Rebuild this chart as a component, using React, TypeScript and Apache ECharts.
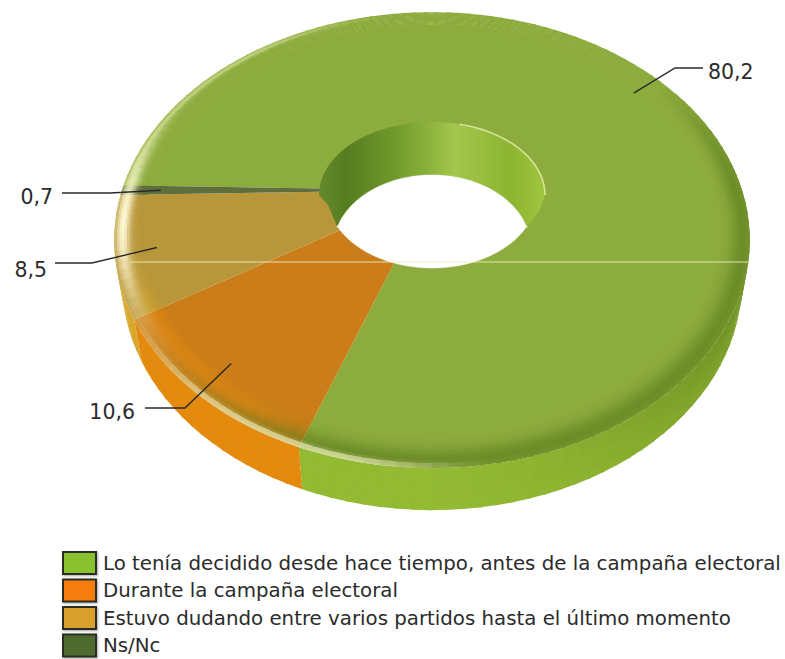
import React, { useEffect, useRef } from "react";
import * as echarts from "echarts";

const categories = [
  "Lo tenía decidido desde hace tiempo, antes de la campaña electoral",
  "Durante la campaña electoral",
  "Estuvo dudando entre varios partidos hasta el último momento",
  "Ns/Nc",
];
const sliceValues = [80.2, 10.6, 8.5, 0.7];

const legendColors = ["#88C02E", "#F57C0A", "#D9A02E", "#4F6A2F"];
const faceColors = ["#8DAC3E", "#CB7D19", "#B8963A", "#5F6F3C"];
const wallColors = ["#93BA33", "#E38A0F", "#D8A62C", "#5F7A30"];

// Label leader geometry (screen offsets only; anchors come from slice mid-angles)
const leaders = [
  { path: [[675, 68], [703, 68]], tx: 708, ty: 72, align: "left" },
  { path: [[185, 408], [145, 408]], tx: 135, ty: 412, align: "right" },
  { path: [[92, 263], [55, 263]], tx: 47, ty: 270, align: "right" },
  { path: [[110, 193], [62, 193]], tx: 53, ty: 197, align: "right" },
];

const FONT = "'DejaVu Sans', sans-serif";
const START = 181.2;
const CX = 432, CY = 190, AX = 310, AY = 217, K = 0.22;
const DEPTH = 42, SHRINK = 0.975;
const R_IN = 0.3, R_BEVEL = 0.91;
const RAD = Math.PI / 180;

function project(r: number, deg: number): [number, number] {
  const u = r * Math.cos(deg * RAD), v = r * Math.sin(deg * RAD);
  const w = 1 - K * v;
  return [CX + (AX * u) / w, CY + (AY * v) / w];
}
function hex(c: string) {
  return [1, 3, 5].map((i) => parseInt(c.slice(i, i + 2), 16));
}
function mix(a: string, b: string, t: number) {
  const A = hex(a), B = hex(b);
  const tt = Math.max(0, Math.min(1, t));
  const out = A.map((x, i) => Math.round(x + (B[i] - x) * tt));
  return "#" + out.map((x) => x.toString(16).padStart(2, "0")).join("");
}
function sstep(a: number, b: number, x: number) {
  const t = Math.max(0, Math.min(1, (x - a) / (b - a)));
  return t * t * (3 - 2 * t);
}
function gauss(x: number, c: number, w: number) {
  return Math.exp(-Math.pow((x - c) / w, 2));
}
function norm(d: number) {
  let x = d % 360;
  if (x > 180) x -= 360;
  if (x <= -180) x += 360;
  return x;
}
function bevelColor(base: string, wall: string, deg: number, t: number) {
  const p = norm(deg);
  const q = p < -90 ? p + 360 : p;
  const dark = sstep(-40, 0, q) * (1 - sstep(100, 150, q));
  let c = mix(base, "#5A7A1C", 0.62 * dark * gauss(t, 0.78, 0.42));
  const glow = sstep(105, 125, q) * (1 - sstep(145, 165, q));
  c = mix(c, wall, 0.55 * glow * gauss(t, 0.4, 0.3));
  c = mix(c, "#FFFBD8", 0.97 * gauss(q, 172, 20) * gauss(t, 0.72, 0.24));
  c = mix(c, "#F6F5C0", 0.5 * sstep(168, 190, q) * (1 - sstep(225, 265, q)) * gauss(t, 0.85, 0.12));
  c = mix(c, "#FBF7C8", 0.8 * sstep(80, 104, q) * (1 - sstep(118, 160, q)) * gauss(t, 0.92, 0.09));
  return c;
}
function wallColor(base: string, deg: number, t: number) {
  const p = norm(deg);
  const q = p < -90 ? p + 360 : p;
  const shade = 1 - sstep(15, 95, q);
  let c = mix(base, "#4E6E18", 0.6 * shade * (1 - 0.45 * t));
  const left = sstep(150, 176, q);
  c = mix(c, "#E8D860", 0.5 * left);
  return c;
}
function seg(points: number[][], fill: string, z2: number) {
  return {
    type: "polygon",
    silent: true,
    z2,
    shape: { points },
    style: { fill },
  };
}

function renderSlice(sliceIndex: number) {
  const total = sliceValues.reduce((a, b) => a + b, 0);
  const before = sliceValues.slice(0, sliceIndex).reduce((a, b) => a + b, 0);
  const a0 = START + (before / total) * 360;
  const a1 = a0 + (sliceValues[sliceIndex] / total) * 360;
  const face = faceColors[sliceIndex];
  const wall = wallColors[sliceIndex];
  return () => {
    const children: any[] = [];
    const n = Math.max(2, Math.ceil((a1 - a0) / 2.5));
    const angles = Array.from({ length: n + 1 }, (_, i) => a0 + ((a1 - a0) * i) / n);

    // flat top face
    const outer = angles.map((d) => project(R_BEVEL + 0.004, d));
    const inner = angles.map((d) => project(R_IN, d)).reverse();
    children.push(seg([...outer, ...inner], face, 2));

    // bevel: each cell overlaps the next one a little so that no seams show
    const RINGS = 12;
    const rings = Array.from({ length: RINGS + 1 }, (_, i) => R_BEVEL + ((1 - R_BEVEL) * i) / RINGS);
    for (let i = 0; i < n; i++) {
      const m = (angles[i] + angles[i + 1]) / 2;
      const from = angles[i];
      const to = Math.min(a1, angles[i + 1] + 0.5);
      for (let j = RINGS - 1; j >= 0; j--) {
        const t = (j + 0.5) / RINGS;
        const rOut = rings[j + 1];
        const rIn = Math.max(R_BEVEL, rings[j] - 0.003);
        children.push(
          seg(
            [project(rIn, from), project(rIn, to), project(rOut, to), project(rOut, from)],
            bevelColor(face, wall, m, t),
            3 + (RINGS - j) * 0.01,
          ),
        );
      }
      // side wall, front half only
      const p = norm(m);
      if (p > -30 || p < -165) {
        const LEVELS = 5;
        const at = (d: number, f: number): number[] => {
          const [x, y] = project(1, d);
          return [CX + (x - CX) * (1 + (SHRINK - 1) * f), y + DEPTH * f];
        };
        for (let j = 0; j < LEVELS; j++) {
          const f0 = j / LEVELS;
          const f1 = Math.min(1, (j + 1) / LEVELS + 0.04);
          children.push(
            seg(
              [at(from, f0), at(to, f0), at(to, f1), at(from, f1)],
              wallColor(wall, m, (j + 0.5) / LEVELS),
              1,
            ),
          );
        }
      }
    }

    // leader and label
    const mid = (a0 + a1) / 2;
    const anchor = project(0.875, mid);
    const l = leaders[sliceIndex];
    children.push({
      type: "polyline",
      silent: true,
      z2: 20,
      shape: { points: [anchor, ...l.path] },
      style: { fill: "none", stroke: "#2a2a2a", lineWidth: 1.4 },
    });
    children.push({
      type: "text",
      silent: true,
      z2: 21,
      style: {
        text: sliceValues[sliceIndex].toFixed(1).replace(".", ","),
        x: l.tx,
        y: l.ty,
        fill: "#2b2b2b",
        fontFamily: FONT,
        fontSize: 20.5,
        textAlign: l.align,
        textVerticalAlign: "middle",
      },
    });
    return { type: "group", children };
  };
}

function renderHole() {
  const HX = CX, HY = 195, RX = 113, RY = 73, DROP = 53;
  const cornerX = 95;
  const rim: number[][] = [];
  for (let d = 180; d <= 360; d += 4) rim.push([HX + RX * Math.cos(d * RAD), HY + RY * Math.sin(d * RAD)]);
  const lowerX = 105;
  const lower: number[][] = [];
  const upper: number[][] = [];
  for (let i = 0; i <= 40; i++) {
    const dx = -cornerX + (2 * cornerX * i) / 40;
    upper.push([HX + dx, HY + DROP - RY * Math.sqrt(1 - Math.pow(dx / 99, 2))]);
    lower.push([HX + dx, HY + RY * Math.sqrt(1 - Math.pow(dx / lowerX, 2))]);
  }
  const wallGrad = new echarts.graphic.LinearGradient(
    HX - RX, 0, HX + RX, 0,
    [
      { offset: 0, color: "#648A2C" },
      { offset: 0.12, color: "#557D20" },
      { offset: 0.35, color: "#729C2C" },
      { offset: 0.6, color: "#A3C64C" },
      { offset: 0.85, color: "#8CB430" },
      { offset: 1, color: "#A2C63F" },
    ],
    true,
  );
  return () => ({
    type: "group",
    children: [
      {
        type: "polygon",
        silent: true,
        z2: 6,
        shape: {
          points: [
            ...rim,
            [HX + 107, HY + 16],
            [HX + cornerX, HY + 32],
            ...lower.slice().reverse(),
            [HX - 104, HY + 10],
          ],
        },
        style: { fill: wallGrad },
      },
      {
        type: "polygon",
        silent: true,
        z2: 7,
        shape: { points: [...upper, ...lower.slice().reverse()] },
        style: { fill: "#ffffff", stroke: "#ffffff", lineWidth: 0.5 },
      },
      {
        type: "polyline",
        silent: true,
        z2: 8,
        shape: { points: rim.filter((p) => p[0] > HX + 20) },
        style: { fill: "none", stroke: "rgba(240,246,190,0.7)", lineWidth: 1.6 },
      },
    ],
  });
}

export default function App() {
  const ref = useRef<HTMLDivElement>(null);
  useEffect(() => {
    const chart = echarts.init(ref.current!, undefined, { renderer: "svg" });
    const hole = renderHole();
    chart.setOption({
      animation: false,
      backgroundColor: "#ffffff",
      legend: {
        left: 62,
        top: 551,
        height: 300,
        width: 723,
        orient: "vertical",
        icon: "rect",
        padding: 0,
        itemWidth: 33,
        itemHeight: 22,
        itemGap: 3.5,
        selectedMode: false,
        data: categories,
        itemStyle: { borderColor: "#2b2f22", borderWidth: 2, shadowColor: "rgba(0,0,0,0.35)", shadowBlur: 2, shadowOffsetX: 1, shadowOffsetY: 1 },
        textStyle: { fontFamily: FONT, fontSize: 19.8, lineHeight: 22, color: "#2b2b2b", padding: [0, 0, 0, 2] },
      },
      graphic: [
        {
          type: "line",
          z: 30,
          silent: true,
          shape: { x1: 130, y1: 262, x2: 750, y2: 262 },
          style: { stroke: "rgba(240,236,190,0.9)", lineWidth: 1 },
        },
      ],
      series: [
        ...categories.map((name, i) => ({
          type: "custom",
          name,
          coordinateSystem: "none",
          silent: true,
          itemStyle: { color: legendColors[i] },
          data: [[sliceValues[i]]],
          renderItem: renderSlice(i),
        })),
        {
          type: "custom",
          name: "hueco",
          coordinateSystem: "none",
          silent: true,
          data: [[1]],
          renderItem: hole,
        },
      ],
    });
    return () => chart.dispose();
  }, []);
  return <div ref={ref} style={{ width: 785, height: 659, position: "absolute", left: 0, top: 0 }} />;
}
